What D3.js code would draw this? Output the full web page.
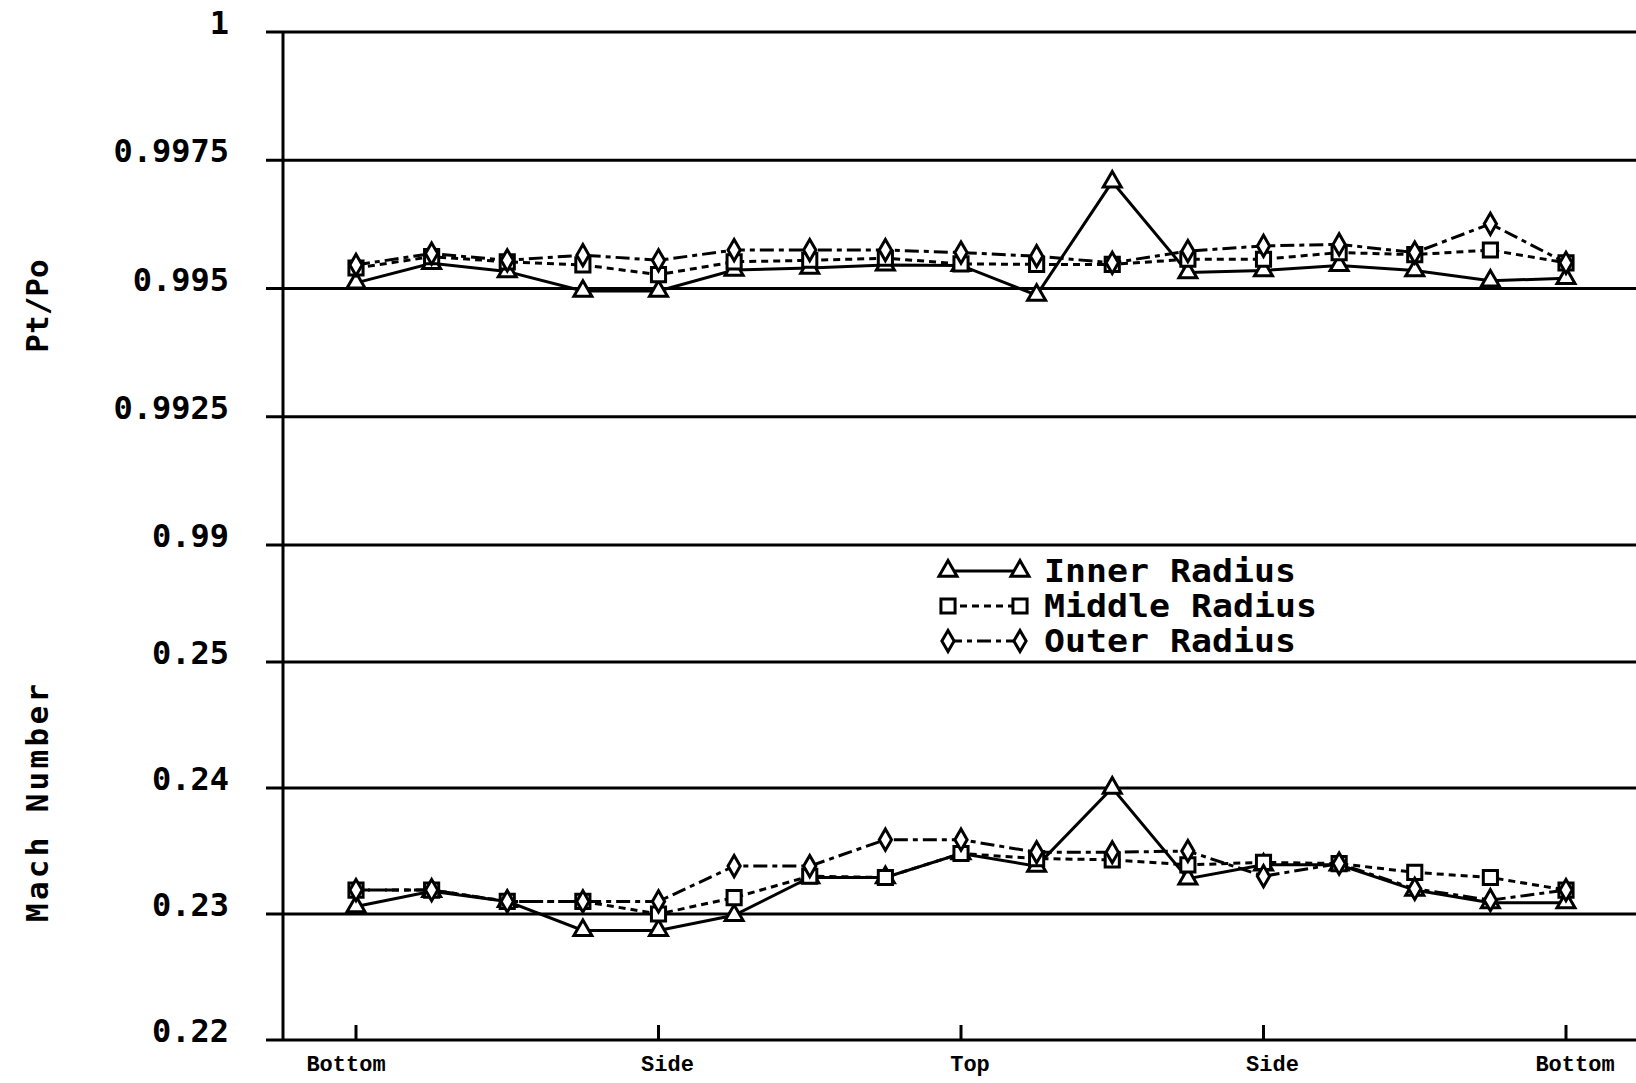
<!DOCTYPE html>
<html>
<head>
<meta charset="utf-8">
<script src="https://cdn.jsdelivr.net/npm/d3@7"></script>
<style>
  body { margin: 0; background: #fff; }
  svg { display: block; }
  .tick-label { font-family: "DejaVu Sans Mono", monospace; font-size: 32px; font-weight: bold; fill: #000; }
  .axis-title { font-family: "DejaVu Sans Mono", monospace; font-size: 31px; font-weight: bold; fill: #000; }
  .x-label { font-family: "Liberation Mono", monospace; font-size: 22px; font-weight: bold; fill: #000; }
  .legend-text { font-family: "DejaVu Sans Mono", monospace; font-size: 32px; font-weight: bold; fill: #000; }
</style>
</head>
<body>
<div id="chart"></div>
<script>
// station index around the duct, 0 = bottom ... 16 = bottom again
const stations = [0, 1, 2, 3, 4, 5, 6, 7, 8, 9, 10, 11, 12, 13, 14, 15, 16];
const stationTicks = [0, 4, 8, 12, 16];
const stationLabels = ["Bottom", "Side", "Top", "Side", "Bottom"];

const ptTicks = [1, 0.9975, 0.995, 0.9925, 0.99];
const ptTickLabels = ["1", "0.9975", "0.995", "0.9925", "0.99"];
const machTicks = [0.25, 0.24, 0.23, 0.22];
const machTickLabels = ["0.25", "0.24", "0.23", "0.22"];

const seriesNames = ["Inner Radius", "Middle Radius", "Outer Radius"];

const ptInner  = [0.99511, 0.99549, 0.99533, 0.99495, 0.99495, 0.99536, 0.99540, 0.99546, 0.99545,
                  0.99487, 0.99708, 0.99531, 0.99535, 0.99545, 0.99535, 0.99515, 0.99520];
const ptMiddle = [0.99540, 0.99562, 0.99552, 0.99546, 0.99527, 0.99552, 0.99555, 0.99559, 0.99548,
                  0.99547, 0.99547, 0.99557, 0.99557, 0.99570, 0.99566, 0.99575, 0.99550];
const ptOuter  = [0.99546, 0.99568, 0.99555, 0.99565, 0.99555, 0.99575, 0.99575, 0.99575, 0.99570,
                  0.99563, 0.99550, 0.99573, 0.99583, 0.99586, 0.99570, 0.99626, 0.99550];

const machInner  = [0.2306, 0.2318, 0.2310, 0.2287, 0.2287, 0.2299, 0.2329, 0.2329, 0.2348,
                    0.2338, 0.2400, 0.2328, 0.2339, 0.2339, 0.2319, 0.2309, 0.2309];
const machMiddle = [0.2319, 0.2319, 0.2310, 0.2310, 0.2300, 0.2313, 0.2330, 0.2329, 0.2348,
                    0.2344, 0.2343, 0.2339, 0.2341, 0.2340, 0.2333, 0.2329, 0.2319];
const machOuter  = [0.2319, 0.2319, 0.2310, 0.2310, 0.2310, 0.2338, 0.2338, 0.2359, 0.2359,
                    0.2349, 0.2349, 0.2350, 0.2330, 0.2340, 0.2320, 0.2311, 0.2319];

const WIDTH = 1636, HEIGHT = 1083;
const AXIS_X = 283, GRID_LEFT = 266;

const styles = [
  {symbol: d3.symbolTriangle, size: 140, dash: null},
  {symbol: d3.symbolSquare,   size: 200, dash: "7,5"},
  {symbol: d3.symbolDiamond,  size: 130, dash: "14,5,5,5"}
];

const svg = d3.select("#chart").append("svg")
  .attr("width", WIDTH)
  .attr("height", HEIGHT);

const x = d3.scaleLinear().domain([0, 16]).range([356, 1566]);
const yPt = d3.scaleLinear().domain([0.99, 1]).range([545, 32]);
const yMach = d3.scaleLinear().domain([0.22, 0.25]).range([1040, 662]);

function drawGrid (scale, ticks, labels) {
  const g = svg.append("g").attr("class", "grid");
  g.selectAll("line")
    .data(ticks)
    .enter().append("line")
    .attr("x1", GRID_LEFT)
    .attr("x2", WIDTH)
    .attr("y1", d => scale(d))
    .attr("y2", d => scale(d))
    .attr("stroke", "#000")
    .attr("stroke-width", 3);

  g.selectAll("text")
    .data(ticks)
    .enter().append("text")
    .attr("class", "tick-label")
    .attr("x", 229)
    .attr("y", d => scale(d) + 2)
    .attr("text-anchor", "end")
    .text((d, i) => labels[i]);
}

drawGrid(yPt, ptTicks, ptTickLabels);
drawGrid(yMach, machTicks, machTickLabels);

// vertical axis line
svg.append("line")
  .attr("x1", AXIS_X).attr("x2", AXIS_X)
  .attr("y1", yPt(1) - 1).attr("y2", yMach(0.22) + 1)
  .attr("stroke", "#000")
  .attr("stroke-width", 3);

// station ticks and labels along the bottom
const xg = svg.append("g").attr("class", "x axis");
xg.selectAll("line")
  .data(stationTicks)
  .enter().append("line")
  .attr("x1", d => x(d)).attr("x2", d => x(d))
  .attr("y1", yMach(0.22) - 15).attr("y2", yMach(0.22))
  .attr("stroke", "#000")
  .attr("stroke-width", 3);

xg.selectAll("text")
  .data(stationTicks)
  .enter().append("text")
  .attr("class", "x-label")
  .attr("x", (d, i) => x(d) + (i === 0 ? -10 : 9))
  .attr("y", 1071)
  .attr("text-anchor", "middle")
  .text((d, i) => stationLabels[i]);

// axis titles
svg.append("text")
  .attr("class", "axis-title")
  .attr("transform", "translate(48,306) rotate(-90)")
  .attr("text-anchor", "middle")
  .text("Pt/Po");

svg.append("text")
  .attr("class", "axis-title")
  .attr("transform", "translate(48,803) rotate(-90)")
  .attr("text-anchor", "middle")
  .attr("textLength", 238)
  .attr("lengthAdjust", "spacing")
  .text("Mach Number");

function drawSeries (values, scale, style) {
  const line = d3.line()
    .x((d, i) => x(stations[i]))
    .y(d => scale(d));

  const g = svg.append("g");
  g.append("path")
    .datum(values)
    .attr("d", line)
    .attr("fill", "none")
    .attr("stroke", "#000")
    .attr("stroke-width", 3)
    .attr("stroke-dasharray", style.dash);

  g.selectAll("path.marker")
    .data(values)
    .enter().append("path")
    .attr("class", "marker")
    .attr("d", d3.symbol().type(style.symbol).size(style.size))
    .attr("transform", (d, i) => "translate(" + x(stations[i]) + "," + scale(d) + ")")
    .attr("fill", "#fff")
    .attr("stroke", "#000")
    .attr("stroke-width", 3);
}

[ptInner, ptMiddle, ptOuter].forEach((s, i) => drawSeries(s, yPt, styles[i]));
[machInner, machMiddle, machOuter].forEach((s, i) => drawSeries(s, yMach, styles[i]));

// legend
const legend = svg.append("g").attr("class", "legend");
const legendRows = [571, 606, 641];
seriesNames.forEach((name, i) => {
  const yy = legendRows[i], st = styles[i];
  legend.append("line")
    .attr("x1", 948).attr("x2", 1020)
    .attr("y1", yy).attr("y2", yy)
    .attr("stroke", "#000")
    .attr("stroke-width", 3)
    .attr("stroke-dasharray", st.dash);
  [948, 1020].forEach(px => {
    legend.append("path")
      .attr("d", d3.symbol().type(st.symbol).size(st.size)())
      .attr("transform", "translate(" + px + "," + yy + ")")
      .attr("fill", "#fff")
      .attr("stroke", "#000")
      .attr("stroke-width", 3);
  });
  legend.append("text")
    .attr("class", "legend-text")
    .attr("x", 1044)
    .attr("y", yy + 11)
    .attr("textLength", name.length * 21)
    .attr("lengthAdjust", "spacingAndGlyphs")
    .text(name);
});
</script>
</body>
</html>
